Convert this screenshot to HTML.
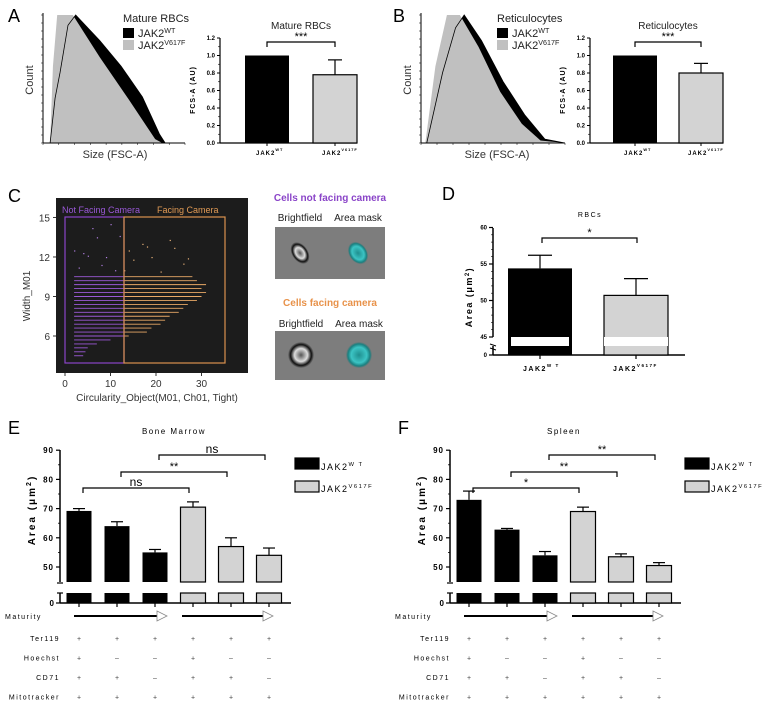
<!DOCTYPE html>
<html><head><meta charset="utf-8"><style>
body{margin:0;background:#fff}
svg{display:block;font-family:"Liberation Sans",sans-serif}
</style></head><body>
<svg id="s" width="775" height="706" viewBox="0 0 775 706" xmlns="http://www.w3.org/2000/svg">
<defs>
<radialGradient id="cellA" cx="50%" cy="50%" r="50%"><stop offset="0" stop-color="#555"/><stop offset="0.5" stop-color="#ddd"/><stop offset="0.8" stop-color="#111"/><stop offset="1" stop-color="#7a7a7a"/></radialGradient>
<radialGradient id="maskA" cx="50%" cy="50%" r="50%"><stop offset="0" stop-color="#1f8f8f"/><stop offset="0.6" stop-color="#3cc4c4"/><stop offset="0.85" stop-color="#1a8080"/><stop offset="1" stop-color="#7a7a7a"/></radialGradient>
</defs>
<g id="root"></g>
</svg>
<script>
// ===== Data =====
const histA_size_mut=[0,5,7,10,21,40,61,79,84,100];
const histA_mut=[0,0,0.6,1,1,0.67,0.33,0.03,0,0];
const histA_size_wt=[0,5,8.5,12,17.6,23,40,55,70,82,86,100];
const histA_wt=[0,0,0.35,0.55,0.92,1,0.8,0.6,0.36,0.07,0,0];
const histB_size_mut=[0,3,10,18,27,40,55,70,83,100];
const histB_mut=[0,0,0.6,1,1,0.75,0.4,0.15,0.02,0];
const histB_size_wt=[0,4,15,24,30,42,57,72,86,100];
const histB_wt=[0,0,0.55,0.9,1,0.8,0.48,0.22,0.03,0];
const fscCats=["WT","V617F"];
const fscA=[1.0,0.78], fscAerr=[0,0.95];
const fscB=[1.0,0.80], fscBerr=[0,0.91];
const fscTicks=[0,0.2,0.4,0.6,0.8,1.0,1.2];
const scRowW=[10.5,10.2,9.9,9.6,9.3,9.0,8.7,8.4,8.1,7.8,7.5,7.2,6.9,6.6,6.3,6.0,5.7,5.4,5.1,4.8,4.5];
const scRowMax=[28,29,31,30,31,30,29,27,26,25,23,22,21,19,18,14,10,7,5,4.5,4];
const scDotX=[4,7,9,11,14,17,18,23,24,26,3,6,12,15,21,8,5,19,2,27,10,13];
const scDotW=[12.3,13.5,12,11,12.5,13,12.8,13.3,12.7,11.5,11.2,14.2,13.6,11.8,10.9,11.4,12.1,12.0,12.5,11.9,14.5,11.0];
const scXTicks=[0,10,20,30], scYTicks=[6,9,12,15];
const rbcVals=[54.4,50.7], rbcErr=[56.2,53.0];
const rbcTicks=[45,50,55,60];
const stageVals_BM=[69.2,64,55,70.5,57,54], stageErr_BM=[70,65.5,56,72.3,60,56.5];
const stageVals_SP=[73,62.8,54,69,53.5,50.5], stageErr_SP=[76,63.2,55.3,70.5,54.5,51.5];
const stageTicks=[50,60,70,80,90];
const rowNames=["Ter119","Hoechst","CD71","Mitotracker"];
const rowSigns=[["+","+","+","+","+","+"],["+","–","–","+","–","–"],["+","+","–","+","+","–"],["+","+","+","+","+","+"]];

const NS="http://www.w3.org/2000/svg";
const root=document.getElementById('root');
function el(tag,attrs,parent,text){const e=document.createElementNS(NS,tag);for(const k in attrs)e.setAttribute(k,attrs[k]);if(text!==undefined)e.textContent=text;(parent||root).appendChild(e);return e;}
function txt(x,y,s,o,name){const e=el('text',Object.assign({x:x,y:y,'font-size':9,fill:'#000'},o||{}),root,s);

return e;}
function sup(x,y,base,sp,o,name){const e=el('text',Object.assign({x:x,y:y,'font-size':9,fill:'#000'},o||{}),root);


el('tspan',{},e,base);el('tspan',{dy:-4,'font-size':'0.65em'},e,sp);return e;}
function line(x1,y1,x2,y2,w,c,name){const e=el('line',{x1,y1,x2,y2,stroke:c||'#000','stroke-width':w||1});

return e;}
function rect(x,y,w,h,f,s,name){const e=el('rect',{x,y,width:w,height:h,fill:f,stroke:s||'none','stroke-width':s?1.2:0});

return e;}
function bracket(x1,x2,y,lbl,name){const p=el('path',{d:`M${x1},${y+5}V${y}H${x2}V${y+5}`,fill:'none',stroke:'#000','stroke-width':1.2});


txt((x1+x2)/2,y-2,lbl,{'text-anchor':'middle','font-size':lbl=='ns'?12:11},name+'-label');}

function hist(x0,x1,y0,y1,sm,vm,sw,vw,name){
 const X=u=>x0+(u/100)*(x1-x0), Y=v=>y0-v*(y0-y1);
 let dw=`M${X(sw[0])},${y0}`;sw.forEach((s,i)=>dw+=`L${X(s)},${Y(vw[i])}`);dw+=`L${X(sw[sw.length-1])},${y0}Z`;
 let dm=`M${X(sm[0])},${y0}`;sm.forEach((s,i)=>dm+=`L${X(s)},${Y(vm[i])}`);dm+=`L${X(sm[sm.length-1])},${y0}Z`;
 let e=el('path',{d:dw,fill:'#000'});
 e=el('path',{d:dm,fill:'#c0c0c0'});
 let dl='';sw.forEach((s,i)=>dl+=(i?'L':'M')+X(s)+','+Y(vw[i]));
 e=el('path',{d:dl,fill:'none',stroke:'#000','stroke-width':0.8});
 line(x0,y1-2,x0,y0,1,'#000',name+'-y-axis');line(x0,y0,x1,y0,1,'#000',name+'-x-axis');
 for(let i=0;i<=16;i++){line(x0-2,y0-i*8,x0,y0-i*8,0.5,'#000',name+'-tick');}
 for(let i=0;i<=9;i++){line(x0+i*(x1-x0)/9,y0,x0+i*(x1-x0)/9,y0+2,0.5,'#000',name+'-tick');}
}
hist(43,185,143,15,histA_size_mut,histA_mut,histA_size_wt,histA_wt,'hist-a');
hist(421,565,143,15,histB_size_mut,histB_mut,histB_size_wt,histB_wt,'hist-b');
txt(8,22,'A',{'font-size':18},'panel-a-letter');txt(393,22,'B',{'font-size':18},'panel-b-letter');
[[33,'hist-a'],[411,'hist-b']].forEach(([x,n])=>txt(x,80,'Count',{'font-size':11,transform:`rotate(-90 ${x} 80)`,'text-anchor':'middle',fill:'#333'},n+'-y-title'));
txt(115,158,'Size (FSC-A)',{'font-size':11,'text-anchor':'middle',fill:'#333'},'hist-a-x-title');
txt(497,158,'Size (FSC-A)',{'font-size':11,'text-anchor':'middle',fill:'#333'},'hist-b-x-title');
function histLeg(x,title,n){txt(x,22,title,{'font-size':11,fill:'#222'},n+'-legend-title');
 rect(x,28,11,10,'#000',null,n+'-legend-wt-swatch');sup(x+15,37,'JAK2','WT',{'font-size':11,fill:'#222'},n+'-legend-wt');
 rect(x,40,11,10,'#c0c0c0',null,n+'-legend-v617f-swatch');sup(x+15,49,'JAK2','V617F',{'font-size':11,fill:'#222'},n+'-legend-v617f');}
histLeg(123,'Mature RBCs','hist-a');histLeg(497,'Reticulocytes','hist-b');

function fsc(ax,bx,vals,errs,title,n){
 const y0=143,y1=38,Y=v=>y0-(v/1.2)*(y0-y1);
 line(ax,y1,ax,y0,1.2,'#000',n+'-y-axis');line(ax,y0,bx[1]+22,y0,1.2,'#000',n+'-x-axis');
 fscTicks.forEach(t=>{line(ax-3,Y(t),ax,Y(t),1,'#000',n+'-tick');txt(ax-5,Y(t)+2,t.toFixed(1),{'font-size':6,'text-anchor':'end','font-weight':'bold'},n+'-tick-label');});
 for(let i=0;i<6;i++)line(ax-2,Y(0.1+i*0.2),ax,Y(0.1+i*0.2),0.6,'#000',n+'-minor-tick');
 vals.forEach((v,i)=>{const cx=bx[i];
  rect(cx-22,Y(v),44,y0-Y(v),i?'#d3d3d3':'#000',i?'#000':null,n+'-bar-'+fscCats[i]);
  if(errs[i]>v){line(cx,Y(v),cx,Y(errs[i]),1.2,'#000',n+'-error-bar');line(cx-7,Y(errs[i]),cx+7,Y(errs[i]),1.2,'#000',n+'-error-cap');}
  line(cx,y0,cx,y0+3,1,'#000',n+'-tick');});
 sup(bx[0]-11,155,'JAK2','WT',{'font-size':6,'font-weight':'bold','letter-spacing':1},n+'-x-label-wt');
 sup(bx[1]-13,155,'JAK2','V617F',{'font-size':6,'font-weight':'bold','letter-spacing':1},n+'-x-label-v617f');
 txt((bx[0]+bx[1])/2,29,title,{'font-size':10,'text-anchor':'middle',fill:'#222'},n+'-title');
 bracket(bx[0],bx[1],42,'***',n+'-significance');
 txt(ax-25,90,'FCS-A (AU)',{'font-size':7,'font-weight':'bold','letter-spacing':1,transform:`rotate(-90 ${ax-25} 90)`,'text-anchor':'middle'},n+'-y-title');
}
fsc(220,[267,335],fscA,fscAerr,'Mature RBCs','fsc-a');
fsc(590,[635,701],fscB,fscBerr,'Reticulocytes','fsc-b');

txt(8,202,'C',{'font-size':18},'panel-c-letter');
rect(56,198,192,175,'#1c1c1c',null,'scatter-plot-area');
const SX=c=>65+c*4.55, SY=w=>336-(w-6)*13.17;
scRowW.forEach((w,i)=>{const m=scRowMax[i];
 line(SX(2),SY(w),SX(Math.min(m,13)),SY(w),0.9,'#9b59d6','scatter-row-not-facing');
 if(m>13)line(SX(13),SY(w),SX(m),SY(w),0.9,'#e8a866','scatter-row-facing');});
scDotX.forEach((c,i)=>{rect(SX(c),SY(scDotW[i]),1.2,1.2,c<13?'#b07fe0':'#e8b27a',null,'scatter-point');});
rect(65,217,59,146,'none','#8a44c8','not-facing-gate');rect(124,217,101,146,'none','#d9924e','facing-gate');
txt(62,213,'Not Facing Camera',{'font-size':9,fill:'#9a58d8'},'not-facing-gate-label');
txt(157,213,'Facing Camera',{'font-size':9,fill:'#e09a55'},'facing-gate-label');
scYTicks.forEach(t=>{line(53,SY(t),56,SY(t),1,'#333','scatter-y-tick');txt(50,SY(t)+4,String(t),{'font-size':10,'text-anchor':'end',fill:'#333'},'scatter-y-tick-label');});
scXTicks.forEach(t=>{line(SX(t),373,SX(t),376,1,'#333','scatter-x-tick');txt(SX(t),387,String(t),{'font-size':10,'text-anchor':'middle',fill:'#333'},'scatter-x-tick-label');});
txt(30,296,'Width_M01',{'font-size':10,transform:'rotate(-90 30 296)','text-anchor':'middle',fill:'#333'},'scatter-y-title');
txt(157,401,'Circularity_Object(M01, Ch01, Tight)',{'font-size':10,'text-anchor':'middle',fill:'#333'},'scatter-x-title');
txt(330,201,'Cells not facing camera',{'font-size':10,'font-weight':'bold','text-anchor':'middle',fill:'#8a44c8'},'not-facing-title');
txt(300,221,'Brightfield',{'font-size':10,'text-anchor':'middle',fill:'#222'},'brightfield-label');
txt(358,221,'Area mask',{'font-size':10,'text-anchor':'middle',fill:'#222'},'area-mask-label');
rect(275,227,110,52,'#7d7d7d',null,'not-facing-image');
let e=el('ellipse',{cx:300,cy:253,rx:8,ry:12,fill:'url(#cellA)',transform:'rotate(-35 300 253)'});
e=el('ellipse',{cx:358,cy:253,rx:9,ry:12,fill:'url(#maskA)',transform:'rotate(-35 358 253)'});
txt(330,306,'Cells facing camera',{'font-size':10,'font-weight':'bold','text-anchor':'middle',fill:'#e8924a'},'facing-title');
txt(301,327,'Brightfield',{'font-size':10,'text-anchor':'middle',fill:'#222'},'brightfield-label-2');
txt(359,327,'Area mask',{'font-size':10,'text-anchor':'middle',fill:'#222'},'area-mask-label-2');
rect(275,331,110,49,'#7d7d7d',null,'facing-image');
e=el('circle',{cx:301,cy:355,r:13,fill:'url(#cellA)'});
e=el('circle',{cx:359,cy:355,r:13,fill:'url(#maskA)'});

txt(442,200,'D',{'font-size':18},'panel-d-letter');
(function(){const ax=493,Y=v=>337-(v-45)*7.3,dx=[540,636],n='rbc-area';
 line(ax,228,ax,337,1.5,'#000',n+'-y-axis');line(ax,346,ax,355,1.5,'#000',n+'-y-axis-lower');
 line(ax-3,344,ax+3,346,1,'#000',n+'-break');line(ax-3,348,ax+3,350,1,'#000',n+'-break');
 line(ax,355,685,355,1.5,'#000',n+'-x-axis');
 rbcTicks.forEach(t=>{line(ax-4,Y(t),ax,Y(t),1.2,'#000',n+'-tick');txt(ax-6,Y(t)+2,String(t),{'font-size':6,'font-weight':'bold','text-anchor':'end'},n+'-tick-label');});
 for(let t=46;t<60;t++)if(t%5)line(ax-2,Y(t),ax,Y(t),0.6,'#000',n+'-minor-tick');
 line(ax-4,355,ax,355,1.2,'#000',n+'-tick');txt(ax-6,357,'0',{'font-size':6,'font-weight':'bold','text-anchor':'end'},n+'-tick-label');
 rbcVals.forEach((v,i)=>{const cx=dx[i];
  rect(cx-32,Y(v),64,355-Y(v),i?'#d3d3d3':'#000',i?'#000':null,n+'-bar-'+fscCats[i]);
  rect(cx-32+(i?0:3),337,64-(i?0:6),9,'#fff',null,n+'-bar-break');
  line(cx,Y(v),cx,Y(rbcErr[i]),1.2,'#000',n+'-error-bar');line(cx-12,Y(rbcErr[i]),cx+12,Y(rbcErr[i]),1.2,'#000',n+'-error-cap');
  line(cx,355,cx,359,1.2,'#000',n+'-x-tick');});
 sup(523,371,'JAK2','W T',{'font-size':7,'font-weight':'bold','letter-spacing':1.5},n+'-x-label-wt');
 sup(613,371,'JAK2','V617F',{'font-size':7,'font-weight':'bold','letter-spacing':1.5},n+'-x-label-v617f');
 txt(590,217,'RBCs',{'font-size':7,'letter-spacing':1.5,'text-anchor':'middle'},n+'-title');
 bracket(542,637,238,'*',n+'-significance');
 const t=txt(472,297,'',{'font-size':9,'font-weight':'bold','letter-spacing':1.5,transform:'rotate(-90 472 297)','text-anchor':'middle'},n+'-y-title');
 el('tspan',{},t,'Area (μm');el('tspan',{dy:-3,'font-size':6},t,'2');el('tspan',{dy:3},t,')');
})();

function stage(ox,vals,errs,title,letter,brackets,n){
 const ax=60+ox,Y=v=>567-(v-50)*2.92,cx=[79,117,155,193,231,269].map(c=>c+ox);
 txt(8+ox,434,letter,{'font-size':18},n+'-letter');
 txt(174+ox,434,title,{'font-size':8,'letter-spacing':1.5,'text-anchor':'middle'},n+'-title');
 line(ax,450,ax,582,1.5,'#000',n+'-y-axis');line(ax,593,ax,603,1.5,'#000',n+'-y-axis-lower');
 line(ax-3,583,ax+3,583,1.2,'#000',n+'-break');line(ax-3,593,ax+3,593,1.2,'#000',n+'-break');
 line(ax,603,291+ox,603,1.5,'#000',n+'-x-axis');
 stageTicks.forEach(t=>{line(ax-4,Y(t),ax,Y(t),1.2,'#000',n+'-tick');txt(ax-6,Y(t)+3,String(t),{'font-size':8,'font-weight':'bold','letter-spacing':1,'text-anchor':'end'},n+'-tick-label');});
 for(let t=55;t<90;t+=10)line(ax-2,Y(t),ax,Y(t),0.8,'#000',n+'-minor-tick');
 line(ax-4,603,ax,603,1.2,'#000',n+'-tick');txt(ax-6,606,'0',{'font-size':8,'font-weight':'bold','text-anchor':'end'},n+'-tick-label');
 vals.forEach((v,i)=>{const c=cx[i],g=i>2;
  rect(c-12.5,Y(v),25,582-Y(v),g?'#d3d3d3':'#000',g?'#000':null,n+'-bar-'+i);
  rect(c-12.5,593,25,10,g?'#d3d3d3':'#000',g?'#000':null,n+'-bar-lower-'+i);
  line(c,Y(v),c,Y(errs[i]),1.2,'#000',n+'-error-bar');line(c-6,Y(errs[i]),c+6,Y(errs[i]),1.2,'#000',n+'-error-cap');
  line(c,603,c,607,1.2,'#000',n+'-x-tick');});
 brackets.forEach(b=>bracket(cx[b[0]]+4,cx[b[1]]-4,b[2],b[3],n+'-significance'));
 const t=txt(35+ox,510,'',{'font-size':10,'font-weight':'bold','letter-spacing':2,transform:`rotate(-90 ${35+ox} 510)`,'text-anchor':'middle'},n+'-y-title');
 el('tspan',{},t,'Area (μm');el('tspan',{dy:-4,'font-size':7},t,'2');el('tspan',{dy:4},t,')');
 rect(295+ox,458,24,11,'#000','#000',n+'-legend-wt-swatch');sup(321+ox,470,'JAK2','W T',{'font-size':9,'letter-spacing':1.5},n+'-legend-wt');
 rect(295+ox,481,24,11,'#d3d3d3','#000',n+'-legend-v617f-swatch');sup(321+ox,492,'JAK2','V617F',{'font-size':9,'letter-spacing':1.5},n+'-legend-v617f');
 txt(5+ox,619,'Maturity',{'font-size':7,'letter-spacing':1.5},n+'-maturity-label');
 [[74,157],[182,263]].forEach(a=>{line(a[0]+ox,616,a[1]+ox,616,2,'#000',n+'-maturity-arrow');
  const p=el('path',{d:`M${a[1]+ox},611L${a[1]+10+ox},616L${a[1]+ox},621Z`,fill:'#fff',stroke:'#888','stroke-width':0.8});
  });
 rowNames.forEach((r,j)=>{const y=641+j*19.5;
  txt(60+ox,y,r,{'font-size':7,'letter-spacing':1.5,'text-anchor':'end'},n+'-row-'+r);
  rowSigns[j].forEach((s,i)=>txt(cx[i],y,s,{'font-size':7,'text-anchor':'middle',fill:'#444'},n+'-sign'));});
}
stage(0,stageVals_BM,stageErr_BM,'Bone Marrow','E',[[0,3,488,'ns'],[1,4,472,'**'],[2,5,455,'ns']],'bone-marrow');
stage(390,stageVals_SP,stageErr_SP,'Spleen','F',[[0,3,488,'*'],[1,4,472,'**'],[2,5,455,'**']],'spleen');
</script>
</body></html>
